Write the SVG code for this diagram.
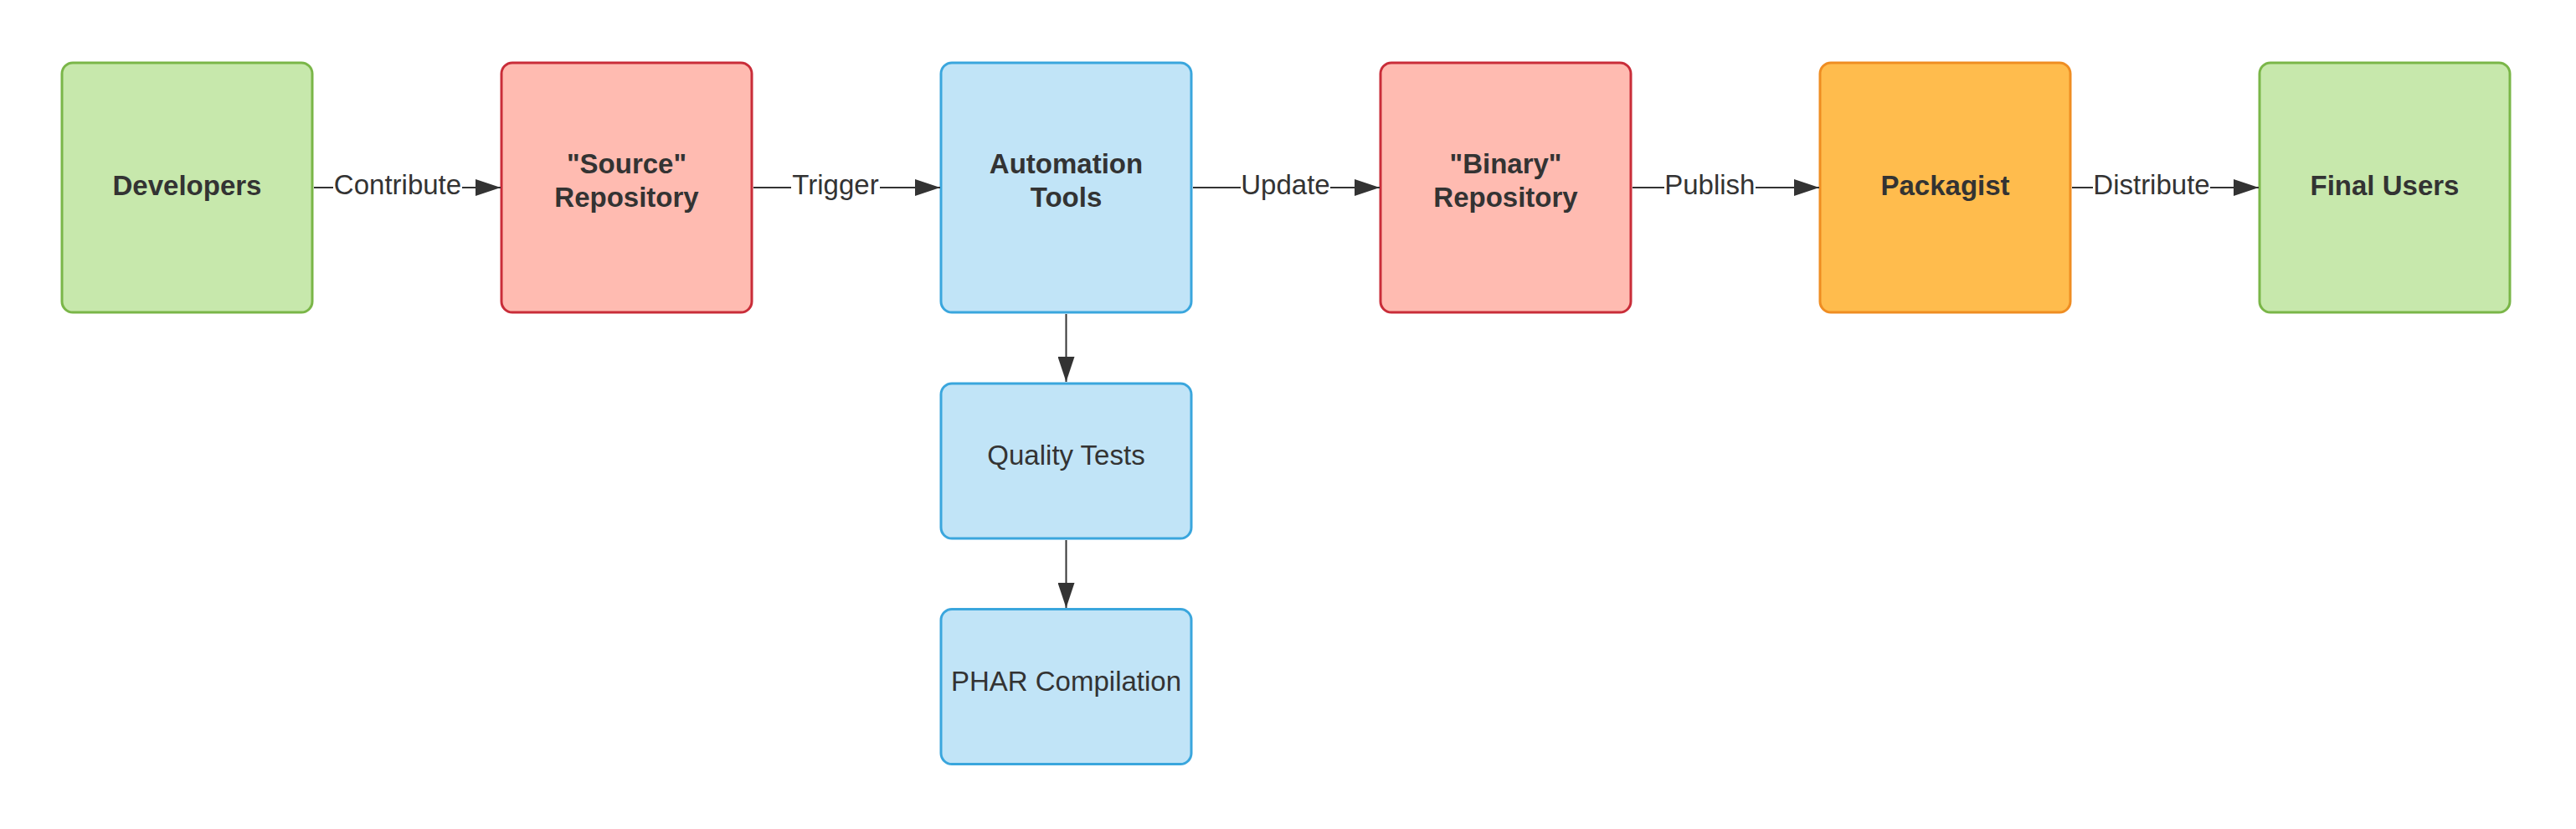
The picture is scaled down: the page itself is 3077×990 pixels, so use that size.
<svg xmlns="http://www.w3.org/2000/svg" width="3077" height="990" viewBox="0 0 3077 990">
  <style>
    .box { stroke-width: 3; }
    .green { fill: #c7e8ac; stroke: #7ab648; }
    .red { fill: #ffbbb1; stroke: #c92d39; }
    .blue { fill: #c1e4f7; stroke: #3aa6dd; }
    .orange { fill: #ffbc4d; stroke: #ef8d22; }
    .title { font-family: "Liberation Sans", Arial, sans-serif; font-size: 33px; font-weight: bold; fill: #333333; text-anchor: middle; }
    .plain { font-family: "Liberation Sans", Arial, sans-serif; font-size: 33px; fill: #333333; text-anchor: middle; }
    .edge { stroke: #333333; stroke-width: 2; fill: none; }
    .label { font-family: "Liberation Sans", Arial, sans-serif; font-size: 33px; fill: #333333; text-anchor: middle; }
  </style>
  <defs>
    <marker id="arrow" markerUnits="userSpaceOnUse" markerWidth="30" markerHeight="20" refX="30" refY="10" orient="auto">
      <path d="M0,0 L30,10 L0,20 Z" fill="#333333"/>
    </marker>
  </defs>
  <rect width="3077" height="990" fill="#ffffff"/>

  <g id="developers">
    <rect class="box green" x="74" y="75" width="299" height="298" rx="13"/>
    <text class="title" x="223.5" y="233">Developers</text>
  </g>
  <g id="source-repository">
    <rect class="box red" x="599" y="75" width="299" height="298" rx="13"/>
    <text class="title" x="748.5" y="207">"Source"</text>
    <text class="title" x="748.5" y="247">Repository</text>
  </g>
  <g id="automation-tools">
    <rect class="box blue" x="1124" y="75" width="299" height="298" rx="13"/>
    <text class="title" x="1273.5" y="207">Automation</text>
    <text class="title" x="1273.5" y="247">Tools</text>
  </g>
  <g id="binary-repository">
    <rect class="box red" x="1649" y="75" width="299" height="298" rx="13"/>
    <text class="title" x="1798.5" y="207">"Binary"</text>
    <text class="title" x="1798.5" y="247">Repository</text>
  </g>
  <g id="packagist">
    <rect class="box orange" x="2174" y="75" width="299" height="298" rx="13"/>
    <text class="title" x="2323.5" y="233">Packagist</text>
  </g>
  <g id="final-users">
    <rect class="box green" x="2699" y="75" width="299" height="298" rx="13"/>
    <text class="title" x="2848.5" y="233">Final Users</text>
  </g>
  <g id="quality-tests">
    <rect class="box blue" x="1124" y="458" width="299" height="185" rx="13"/>
    <text class="plain" x="1273.5" y="555">Quality Tests</text>
  </g>
  <g id="phar-compilation">
    <rect class="box blue" x="1124" y="727.5" width="299" height="185" rx="13"/>
    <text class="plain" x="1273.5" y="825">PHAR Compilation</text>
  </g>

  <g id="connectors">
    <line class="edge" x1="375" y1="224" x2="398" y2="224"/>
    <line class="edge" x1="552" y1="224" x2="598" y2="224" marker-end="url(#arrow)"/>
    <text class="label" x="475" y="231.5">Contribute</text>

    <line class="edge" x1="900" y1="224" x2="945" y2="224"/>
    <line class="edge" x1="1051" y1="224" x2="1123" y2="224" marker-end="url(#arrow)"/>
    <text class="label" x="998" y="231.5">Trigger</text>

    <line class="edge" x1="1425" y1="224" x2="1482" y2="224"/>
    <line class="edge" x1="1589" y1="224" x2="1648" y2="224" marker-end="url(#arrow)"/>
    <text class="label" x="1535.5" y="231.5">Update</text>

    <line class="edge" x1="1950" y1="224" x2="1988" y2="224"/>
    <line class="edge" x1="2097" y1="224" x2="2173" y2="224" marker-end="url(#arrow)"/>
    <text class="label" x="2042.3" y="231.5">Publish</text>

    <line class="edge" x1="2475" y1="224" x2="2500" y2="224"/>
    <line class="edge" x1="2640" y1="224" x2="2698" y2="224" marker-end="url(#arrow)"/>
    <text class="label" x="2570" y="231.5">Distribute</text>

    <line class="edge" x1="1273.5" y1="375" x2="1273.5" y2="456" marker-end="url(#arrow)"/>
    <line class="edge" x1="1273.5" y1="645" x2="1273.5" y2="726" marker-end="url(#arrow)"/>
  </g>
</svg>
